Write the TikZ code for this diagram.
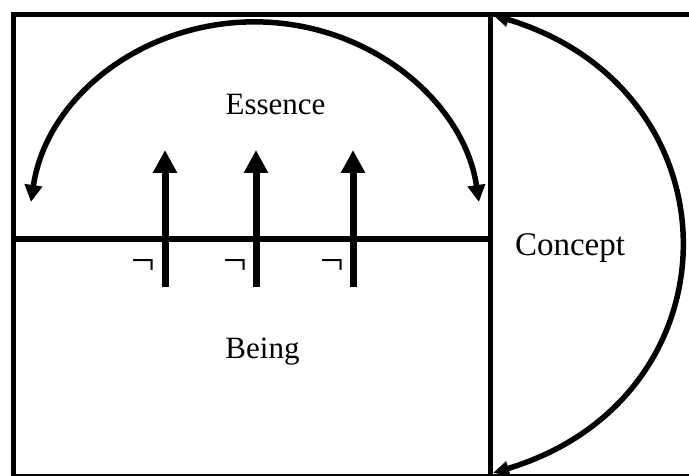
\documentclass[tikz,border=0pt]{standalone}
\usepackage{fontspec}
\setmainfont{Liberation Serif}
\usetikzlibrary{arrows.meta}
\begin{document}
\begin{tikzpicture}[x=1pt,y=1pt,
  frame/.style={line width=5.5pt},
  uparrow/.style={line width=7pt,-{Triangle[length=23pt,width=23pt]}},
  arcarrow/.style={line width=5.5pt,{Triangle[length=17pt,width=17pt]}-{Triangle[length=17pt,width=17pt]}},
  concarrow/.style={line width=5.5pt,{Triangle[length=16pt,width=14pt]}-{Triangle[length=16pt,width=14pt]}},
  lbl/.style={font=\fontsize{31}{36}\selectfont, inner sep=0pt, anchor=base},
  neg/.style={font=\fontsize{42}{48}\selectfont, inner sep=0pt, anchor=base}]
\useasboundingbox (0,0) rectangle (689,475);
\clip (0,0) rectangle (689,475);
% frame
\coordinate (bl) at (13.5,-2);
\coordinate (tr) at (700,460.5);
\coordinate (dtop) at (490.5,460.5);
\coordinate (dbot) at (490.5,-2);
\coordinate (ml) at (13.5,236);
\coordinate (mr) at (490.5,236);
\draw[frame] (bl) rectangle (tr);
\draw[frame] (dtop) -- (dbot);
\draw[frame] (ml) -- (mr);
% vertical arrows
\foreach \x/\n in {165/a,256/b,353/c}{
  \coordinate (\n0) at (\x,188);
  \coordinate (\n1) at (\x,325);
  \draw[uparrow] (\n0) -- (\n1);
}
% negation signs
\node[neg] (n1) at (143,201) {¬};
\node[neg] (n2) at (235,201) {¬};
\node[neg] (n3) at (332,201) {¬};
% labels
\node[lbl] (essence) at (275.5,360) {Essence};
\node[lbl] (being) at (262.5,117) {Being};
\node[lbl, font=\fontsize{33}{38}\selectfont] (concept) at (570,219) {Concept};
% top arc
\coordinate (arcL) at (31,273);
\draw[arcarrow] (arcL) arc[start angle=172.3, end angle=7.7, x radius=226pt, y radius=208pt];
% concept arc
\coordinate (cT) at (493,460);
\coordinate (cB) at (493,2);
\draw[concarrow] (cT) .. controls (742,385) and (742,77) .. (cB);
\end{tikzpicture}
\end{document}
